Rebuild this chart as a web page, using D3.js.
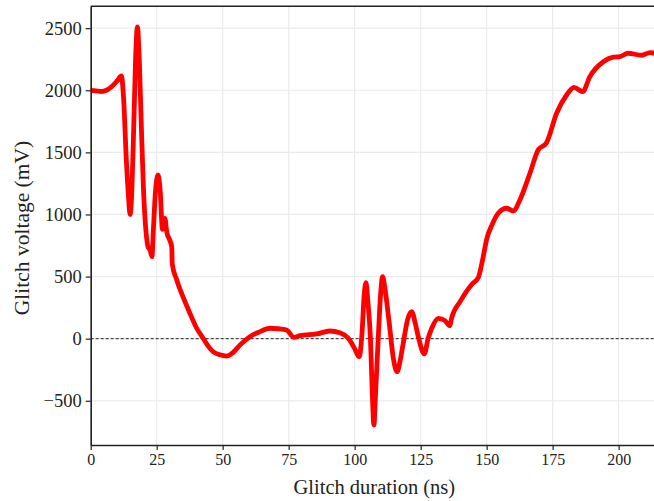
<!DOCTYPE html>
<html>
<head>
<meta charset="utf-8">
<script src="https://cdn.jsdelivr.net/npm/d3@7"></script>
<style>
  body { margin: 0; background: #fff; }
  svg { display: block; }
</style>
</head>
<body>
<svg id="chart" width="654" height="501"></svg>
<script>
// glitch duration (ns) vs glitch voltage (mV)
var durations = [0, 2, 4, 6, 8, 10, 11.6, 12.5, 13.5, 14.3, 14.9, 15.6, 16.3, 17.0, 17.7, 18.4, 19.2, 20, 21, 21.8,
  22.5, 23.2, 23.8, 24.5, 25.5, 26.3, 27.2, 28.1, 28.8, 29.8, 30.7, 30.9, 32.6, 35.1, 37.6, 40, 42.7, 44.5, 46.4, 49,
  51.5, 54, 56.6, 60.3, 64, 67.9, 71, 74.2, 77.0, 79.3, 85.6, 90.6, 94.4, 97.6, 100, 101.7, 102.8, 103.6, 104.3, 105,
  106, 106.7, 107.3, 107.9, 108.9, 109.8, 110.6, 111.5, 113.1, 114.6, 116.1, 117.2, 118.4, 120, 121.6, 123, 124.1, 126.4, 127.8, 129.2,
  131.7, 134.2, 136.1, 136.7, 140, 144.5, 146.8, 148.7, 150, 151.9, 154.4, 157.6, 160.1, 162.6, 166.4, 169.5, 172.7, 176.5,
  180.3, 183.1, 186.4, 189.1, 194.2, 198, 200.5, 203.6, 208.7, 211.9, 213.4];
var voltages = [2000, 1995, 1990, 2000, 2030, 2075, 2115, 1921, 1438, 1150, 1000, 1200, 1700, 2250, 2510, 2250, 1700, 1200, 850, 735,
  715, 660, 900, 1173, 1318, 1200, 880, 969, 861, 800, 741, 600, 473, 330, 204, 90, 0, -60, -105, -130,
  -140, -110, -50, 16, 55, 84, 80, 70, 11, 24, 38, 62, 48, 3, -80, -145, 50, 350, 451, 300,
  -10, -450, -695, -450, -10, 350, 499, 400, 124, -150, -266, -180, -37, 150, 217, 120, 16, -123, 0, 84,
  164, 145, 105, 164, 300, 440, 490, 660, 800, 910, 1010, 1050, 1028, 1117, 1332, 1519, 1578, 1815,
  1962, 2024, 1989, 2110, 2230, 2266, 2271, 2298, 2282, 2303, 2300];

var xTicks = [0, 25, 50, 75, 100, 125, 150, 175, 200];
var yTicks = [-500, 0, 500, 1000, 1500, 2000, 2500];

var serif = "'Liberation Serif', 'Times New Roman', serif";
var width = 654, height = 501;
var margin = {top: 6.3, right: 0, bottom: 56, left: 90.7};

var svg = d3.select("#chart");

var x = d3.scaleLinear().domain([0, 213.4]).range([margin.left, width - margin.right]);
var y = d3.scaleLinear().domain([-856, 2676]).range([height - margin.bottom, margin.top]);

var data = durations.map(function(d, i) { return {x: d, y: voltages[i]}; });

// grid
svg.append("g").selectAll("line")
  .data(xTicks).enter().append("line")
  .attr("x1", function(d) { return x(d); }).attr("x2", function(d) { return x(d); })
  .attr("y1", y.range()[0]).attr("y2", y.range()[1])
  .attr("stroke", "#ebebeb").attr("stroke-width", 1.2);
svg.append("g").selectAll("line")
  .data(yTicks).enter().append("line")
  .attr("x1", x.range()[0]).attr("x2", x.range()[1])
  .attr("y1", function(d) { return y(d); }).attr("y2", function(d) { return y(d); })
  .attr("stroke", "#ebebeb").attr("stroke-width", 1.2);

// zero line
svg.append("line")
  .attr("x1", x.range()[0]).attr("x2", x.range()[1])
  .attr("y1", y(0)).attr("y2", y(0))
  .attr("stroke", "#222").attr("stroke-width", 1)
  .attr("stroke-dasharray", "3,2");

// curve
svg.append("clipPath").attr("id", "plotclip").append("rect")
  .attr("x", x.range()[0]).attr("y", margin.top)
  .attr("width", x.range()[1] - x.range()[0]).attr("height", y.range()[0] - margin.top);

svg.append("path")
  .datum(data)
  .attr("clip-path", "url(#plotclip)")
  .attr("fill", "none")
  .attr("stroke", "#ff0000")
  .attr("stroke-width", 4.8)
  .attr("stroke-linejoin", "round")
  .attr("stroke-linecap", "round")
  .attr("d", d3.line()
    .x(function(d) { return x(d.x); })
    .y(function(d) { return y(d.y); })
    .curve(d3.curveMonotoneX));

// axes
var xAxis = svg.append("g")
  .attr("transform", "translate(0," + y.range()[0] + ")")
  .call(d3.axisBottom(x).tickValues(xTicks).tickSize(5).tickPadding(4).tickSizeOuter(0));
xAxis.attr("font-family", serif);
xAxis.selectAll("text").style("font-family", serif).style("font-size", "16px").attr("fill", "#222");

var yAxis = svg.append("g")
  .attr("transform", "translate(" + x.range()[0] + ",0)")
  .call(d3.axisLeft(y).tickValues(yTicks).tickSize(5).tickPadding(4).tickSizeOuter(0)
    .tickFormat(function(d) { return d < 0 ? "\u2212" + Math.abs(d) : d; }));
yAxis.attr("font-family", serif);
yAxis.selectAll("text").style("font-family", serif).style("font-size", "18.5px").attr("fill", "#222");

svg.selectAll(".domain").attr("stroke", "#222").attr("stroke-width", 1.6);
svg.selectAll(".tick line").attr("stroke", "#222").attr("stroke-width", 1.2);

// top spine
svg.append("line")
  .attr("x1", x.range()[0]).attr("x2", x.range()[1])
  .attr("y1", margin.top).attr("y2", margin.top)
  .attr("stroke", "#222").attr("stroke-width", 1.6);

// axis titles
svg.append("text")
  .attr("x", (x.range()[0] + x.range()[1]) / 2 + 2)
  .attr("y", 494)
  .attr("text-anchor", "middle")
  .style("font-family", serif)
  .style("font-size", "20.5px")
  .attr("fill", "#222")
  .text("Glitch duration (ns)");

svg.append("text")
  .attr("transform", "translate(29," + 228 + ") rotate(-90)")
  .attr("text-anchor", "middle")
  .style("font-family", serif)
  .style("font-size", "21.5px")
  .attr("fill", "#222")
  .text("Glitch voltage (mV)");
</script>
</body>
</html>
